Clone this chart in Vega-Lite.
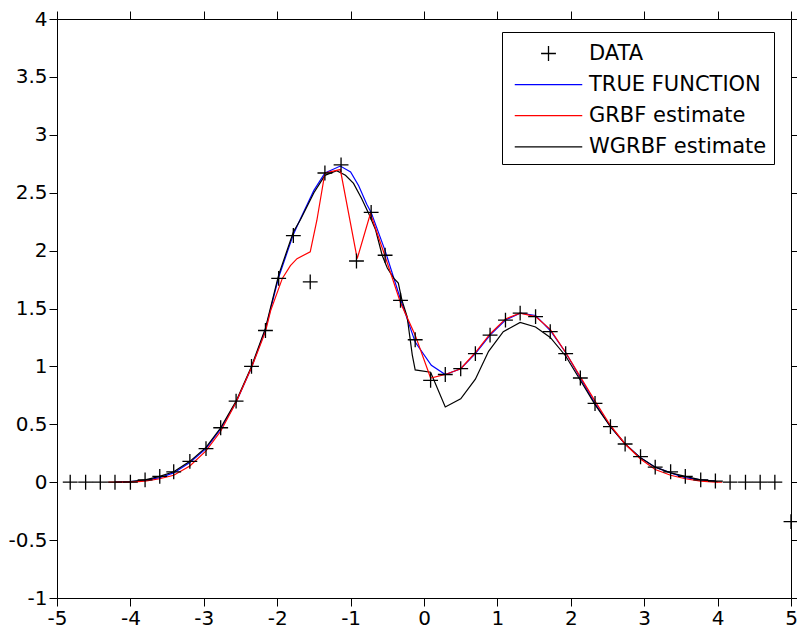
{
  "$schema": "https://vega.github.io/schema/vega-lite/v6.json",
  "width": 734,
  "height": 579,
  "autosize": "none",
  "padding": {"left": 57, "top": 19, "right": 6, "bottom": 34},
  "background": "white",
  "config": {
    "view": {"stroke": null},
    "axis": {
      "grid": false,
      "title": null,
      "labelFont": "DejaVu Sans",
      "labelFontSize": 20,
      "labelColor": "black",
      "tickColor": "black",
      "domainColor": "black",
      "tickSize": 8,
      "labelFlush": false,
      "labelOverlap": false,
      "labelBound": false
    },
    "legend": {
      "orient": "none",
      "legendX": 445,
      "legendY": 13,
      "title": null,
      "strokeColor": "black",
      "fillColor": "white",
      "padding": 7,
      "labelFont": "DejaVu Sans",
      "labelFontSize": 21,
      "labelColor": "black",
      "labelLimit": 0,
      "symbolSize": 729,
      "symbolStrokeWidth": 1.3,
      "symbolOffset": 25,
      "labelOffset": 26,
      "rowPadding": 6.1
    }
  },
  "datasets": {
    "lines": [
      {"series": "TRUE FUNCTION", "x": -4.21, "y": 0},
      {"series": "TRUE FUNCTION", "x": -4.0, "y": 0.005},
      {"series": "TRUE FUNCTION", "x": -3.8, "y": 0.015},
      {"series": "TRUE FUNCTION", "x": -3.6, "y": 0.04},
      {"series": "TRUE FUNCTION", "x": -3.41, "y": 0.08},
      {"series": "TRUE FUNCTION", "x": -3.19, "y": 0.17},
      {"series": "TRUE FUNCTION", "x": -2.97, "y": 0.29},
      {"series": "TRUE FUNCTION", "x": -2.77, "y": 0.46},
      {"series": "TRUE FUNCTION", "x": -2.56, "y": 0.69},
      {"series": "TRUE FUNCTION", "x": -2.35, "y": 0.99},
      {"series": "TRUE FUNCTION", "x": -2.16, "y": 1.32},
      {"series": "TRUE FUNCTION", "x": -1.98, "y": 1.77},
      {"series": "TRUE FUNCTION", "x": -1.78, "y": 2.14},
      {"series": "TRUE FUNCTION", "x": -1.68, "y": 2.28},
      {"series": "TRUE FUNCTION", "x": -1.5, "y": 2.52},
      {"series": "TRUE FUNCTION", "x": -1.35, "y": 2.67},
      {"series": "TRUE FUNCTION", "x": -1.14, "y": 2.73},
      {"series": "TRUE FUNCTION", "x": -1.0, "y": 2.68},
      {"series": "TRUE FUNCTION", "x": -0.89, "y": 2.56},
      {"series": "TRUE FUNCTION", "x": -0.78, "y": 2.4},
      {"series": "TRUE FUNCTION", "x": -0.72, "y": 2.33},
      {"series": "TRUE FUNCTION", "x": -0.53, "y": 2.0},
      {"series": "TRUE FUNCTION", "x": -0.32, "y": 1.58},
      {"series": "TRUE FUNCTION", "x": -0.12, "y": 1.21},
      {"series": "TRUE FUNCTION", "x": 0.1, "y": 1.01},
      {"series": "TRUE FUNCTION", "x": 0.29, "y": 0.93},
      {"series": "TRUE FUNCTION", "x": 0.5, "y": 0.98},
      {"series": "TRUE FUNCTION", "x": 0.7, "y": 1.11},
      {"series": "TRUE FUNCTION", "x": 0.9, "y": 1.27},
      {"series": "TRUE FUNCTION", "x": 1.11, "y": 1.4},
      {"series": "TRUE FUNCTION", "x": 1.31, "y": 1.46},
      {"series": "TRUE FUNCTION", "x": 1.52, "y": 1.44},
      {"series": "TRUE FUNCTION", "x": 1.72, "y": 1.31},
      {"series": "TRUE FUNCTION", "x": 1.93, "y": 1.12},
      {"series": "TRUE FUNCTION", "x": 2.13, "y": 0.9},
      {"series": "TRUE FUNCTION", "x": 2.33, "y": 0.68},
      {"series": "TRUE FUNCTION", "x": 2.54, "y": 0.48},
      {"series": "TRUE FUNCTION", "x": 2.74, "y": 0.33},
      {"series": "TRUE FUNCTION", "x": 2.95, "y": 0.21},
      {"series": "TRUE FUNCTION", "x": 3.15, "y": 0.13},
      {"series": "TRUE FUNCTION", "x": 3.36, "y": 0.08},
      {"series": "TRUE FUNCTION", "x": 3.56, "y": 0.04},
      {"series": "TRUE FUNCTION", "x": 3.77, "y": 0.02},
      {"series": "TRUE FUNCTION", "x": 3.97, "y": 0.01},

      {"series": "WGRBF estimate", "x": -4.21, "y": 0},
      {"series": "WGRBF estimate", "x": -4.0, "y": 0.005},
      {"series": "WGRBF estimate", "x": -3.8, "y": 0.02},
      {"series": "WGRBF estimate", "x": -3.6, "y": 0.05},
      {"series": "WGRBF estimate", "x": -3.41, "y": 0.09},
      {"series": "WGRBF estimate", "x": -3.19, "y": 0.18},
      {"series": "WGRBF estimate", "x": -2.97, "y": 0.3},
      {"series": "WGRBF estimate", "x": -2.77, "y": 0.47},
      {"series": "WGRBF estimate", "x": -2.56, "y": 0.7},
      {"series": "WGRBF estimate", "x": -2.35, "y": 1.0},
      {"series": "WGRBF estimate", "x": -2.16, "y": 1.33},
      {"series": "WGRBF estimate", "x": -1.98, "y": 1.79},
      {"series": "WGRBF estimate", "x": -1.78, "y": 2.16},
      {"series": "WGRBF estimate", "x": -1.68, "y": 2.27},
      {"series": "WGRBF estimate", "x": -1.5, "y": 2.5},
      {"series": "WGRBF estimate", "x": -1.35, "y": 2.65},
      {"series": "WGRBF estimate", "x": -1.19, "y": 2.69},
      {"series": "WGRBF estimate", "x": -1.07, "y": 2.65},
      {"series": "WGRBF estimate", "x": -0.96, "y": 2.58},
      {"series": "WGRBF estimate", "x": -0.85, "y": 2.45},
      {"series": "WGRBF estimate", "x": -0.76, "y": 2.33},
      {"series": "WGRBF estimate", "x": -0.66, "y": 2.18},
      {"series": "WGRBF estimate", "x": -0.57, "y": 1.96},
      {"series": "WGRBF estimate", "x": -0.5, "y": 1.85},
      {"series": "WGRBF estimate", "x": -0.41, "y": 1.76},
      {"series": "WGRBF estimate", "x": -0.35, "y": 1.72},
      {"series": "WGRBF estimate", "x": -0.3, "y": 1.57},
      {"series": "WGRBF estimate", "x": -0.23, "y": 1.43},
      {"series": "WGRBF estimate", "x": -0.16, "y": 1.1},
      {"series": "WGRBF estimate", "x": -0.12, "y": 0.97},
      {"series": "WGRBF estimate", "x": 0.09, "y": 0.95},
      {"series": "WGRBF estimate", "x": 0.29, "y": 0.65},
      {"series": "WGRBF estimate", "x": 0.5, "y": 0.72},
      {"series": "WGRBF estimate", "x": 0.7, "y": 0.89},
      {"series": "WGRBF estimate", "x": 0.88, "y": 1.13},
      {"series": "WGRBF estimate", "x": 1.08, "y": 1.3},
      {"series": "WGRBF estimate", "x": 1.31, "y": 1.38},
      {"series": "WGRBF estimate", "x": 1.52, "y": 1.34},
      {"series": "WGRBF estimate", "x": 1.72, "y": 1.25},
      {"series": "WGRBF estimate", "x": 1.93, "y": 1.09},
      {"series": "WGRBF estimate", "x": 2.13, "y": 0.88},
      {"series": "WGRBF estimate", "x": 2.33, "y": 0.67},
      {"series": "WGRBF estimate", "x": 2.54, "y": 0.48},
      {"series": "WGRBF estimate", "x": 2.74, "y": 0.33},
      {"series": "WGRBF estimate", "x": 2.95, "y": 0.21},
      {"series": "WGRBF estimate", "x": 3.15, "y": 0.13},
      {"series": "WGRBF estimate", "x": 3.36, "y": 0.08},
      {"series": "WGRBF estimate", "x": 3.56, "y": 0.05},
      {"series": "WGRBF estimate", "x": 3.77, "y": 0.02},
      {"series": "WGRBF estimate", "x": 3.97, "y": 0.01},
      {"series": "WGRBF estimate", "x": 4.0, "y": 0},

      {"series": "GRBF estimate", "x": -4.3, "y": 0},
      {"series": "GRBF estimate", "x": -4.0, "y": 0},
      {"series": "GRBF estimate", "x": -3.8, "y": 0.01},
      {"series": "GRBF estimate", "x": -3.6, "y": 0.03},
      {"series": "GRBF estimate", "x": -3.41, "y": 0.06},
      {"series": "GRBF estimate", "x": -3.19, "y": 0.14},
      {"series": "GRBF estimate", "x": -2.97, "y": 0.27},
      {"series": "GRBF estimate", "x": -2.77, "y": 0.44},
      {"series": "GRBF estimate", "x": -2.56, "y": 0.69},
      {"series": "GRBF estimate", "x": -2.35, "y": 0.99},
      {"series": "GRBF estimate", "x": -2.16, "y": 1.3},
      {"series": "GRBF estimate", "x": -2.09, "y": 1.48},
      {"series": "GRBF estimate", "x": -1.93, "y": 1.76},
      {"series": "GRBF estimate", "x": -1.82, "y": 1.87},
      {"series": "GRBF estimate", "x": -1.73, "y": 1.93},
      {"series": "GRBF estimate", "x": -1.55, "y": 1.99},
      {"series": "GRBF estimate", "x": -1.46, "y": 2.26},
      {"series": "GRBF estimate", "x": -1.35, "y": 2.67},
      {"series": "GRBF estimate", "x": -1.14, "y": 2.7},
      {"series": "GRBF estimate", "x": -0.91, "y": 1.93},
      {"series": "GRBF estimate", "x": -0.73, "y": 2.32},
      {"series": "GRBF estimate", "x": -0.53, "y": 1.95},
      {"series": "GRBF estimate", "x": -0.32, "y": 1.55},
      {"series": "GRBF estimate", "x": -0.12, "y": 1.27},
      {"series": "GRBF estimate", "x": 0.09, "y": 0.9},
      {"series": "GRBF estimate", "x": 0.29, "y": 0.93},
      {"series": "GRBF estimate", "x": 0.5, "y": 0.98},
      {"series": "GRBF estimate", "x": 0.7, "y": 1.12},
      {"series": "GRBF estimate", "x": 0.9, "y": 1.28},
      {"series": "GRBF estimate", "x": 1.11, "y": 1.41},
      {"series": "GRBF estimate", "x": 1.31, "y": 1.46},
      {"series": "GRBF estimate", "x": 1.52, "y": 1.43},
      {"series": "GRBF estimate", "x": 1.72, "y": 1.32},
      {"series": "GRBF estimate", "x": 1.93, "y": 1.12},
      {"series": "GRBF estimate", "x": 2.13, "y": 0.91},
      {"series": "GRBF estimate", "x": 2.33, "y": 0.7},
      {"series": "GRBF estimate", "x": 2.54, "y": 0.49},
      {"series": "GRBF estimate", "x": 2.74, "y": 0.33},
      {"series": "GRBF estimate", "x": 2.95, "y": 0.2},
      {"series": "GRBF estimate", "x": 3.15, "y": 0.11},
      {"series": "GRBF estimate", "x": 3.36, "y": 0.06},
      {"series": "GRBF estimate", "x": 3.56, "y": 0.03},
      {"series": "GRBF estimate", "x": 3.77, "y": 0.01},
      {"series": "GRBF estimate", "x": 3.97, "y": 0},
      {"series": "GRBF estimate", "x": 4.06, "y": 0}
    ],
    "points": [
      {"series": "DATA", "x": -4.82, "y": 0},
      {"series": "DATA", "x": -4.61, "y": 0},
      {"series": "DATA", "x": -4.41, "y": 0},
      {"series": "DATA", "x": -4.21, "y": 0},
      {"series": "DATA", "x": -4.0, "y": 0},
      {"series": "DATA", "x": -3.8, "y": 0.02},
      {"series": "DATA", "x": -3.6, "y": 0.05},
      {"series": "DATA", "x": -3.41, "y": 0.09},
      {"series": "DATA", "x": -3.19, "y": 0.18},
      {"series": "DATA", "x": -2.97, "y": 0.29},
      {"series": "DATA", "x": -2.77, "y": 0.47},
      {"series": "DATA", "x": -2.56, "y": 0.7},
      {"series": "DATA", "x": -2.35, "y": 1.0},
      {"series": "DATA", "x": -2.16, "y": 1.31},
      {"series": "DATA", "x": -1.98, "y": 1.76},
      {"series": "DATA", "x": -1.78, "y": 2.13},
      {"series": "DATA", "x": -1.55, "y": 1.73},
      {"series": "DATA", "x": -1.35, "y": 2.67},
      {"series": "DATA", "x": -1.13, "y": 2.74},
      {"series": "DATA", "x": -0.92, "y": 1.91},
      {"series": "DATA", "x": -0.72, "y": 2.33},
      {"series": "DATA", "x": -0.53, "y": 1.96},
      {"series": "DATA", "x": -0.32, "y": 1.57},
      {"series": "DATA", "x": -0.12, "y": 1.23},
      {"series": "DATA", "x": 0.09, "y": 0.88},
      {"series": "DATA", "x": 0.29, "y": 0.93},
      {"series": "DATA", "x": 0.5, "y": 0.98},
      {"series": "DATA", "x": 0.7, "y": 1.11},
      {"series": "DATA", "x": 0.9, "y": 1.27},
      {"series": "DATA", "x": 1.11, "y": 1.4},
      {"series": "DATA", "x": 1.31, "y": 1.46},
      {"series": "DATA", "x": 1.52, "y": 1.43},
      {"series": "DATA", "x": 1.72, "y": 1.3},
      {"series": "DATA", "x": 1.93, "y": 1.11},
      {"series": "DATA", "x": 2.13, "y": 0.9},
      {"series": "DATA", "x": 2.33, "y": 0.68},
      {"series": "DATA", "x": 2.54, "y": 0.48},
      {"series": "DATA", "x": 2.74, "y": 0.33},
      {"series": "DATA", "x": 2.95, "y": 0.22},
      {"series": "DATA", "x": 3.15, "y": 0.13},
      {"series": "DATA", "x": 3.36, "y": 0.09},
      {"series": "DATA", "x": 3.56, "y": 0.05},
      {"series": "DATA", "x": 3.77, "y": 0.02},
      {"series": "DATA", "x": 3.97, "y": 0.01},
      {"series": "DATA", "x": 4.17, "y": 0},
      {"series": "DATA", "x": 4.38, "y": 0},
      {"series": "DATA", "x": 4.58, "y": 0},
      {"series": "DATA", "x": 4.78, "y": 0},
      {"series": "DATA", "x": 5.0, "y": -0.34}
    ]
  },
  "resolve": {
    "scale": {"x": "independent", "y": "independent"},
    "axis": {"x": "independent", "y": "independent"}
  },
  "layer": [
    {
      "mark": {"type": "rule", "color": "black", "strokeWidth": 1.3},
      "encoding": {
        "x": {"datum": -5, "type": "quantitative",
              "scale": {"domain": [-5, 5], "nice": false, "zero": false},
              "axis": {"orient": "bottom", "values": [-5,-4,-3,-2,-1,0,1,2,3,4,5], "labelExpr": "'' + datum.value", "labelPadding": 2,
                       "encode": {"ticks": {"update": {"y2": {"value": -8}}}}}},
        "x2": {"datum": 5},
        "y": {"datum": 0, "type": "quantitative",
              "scale": {"domain": [-1, 4], "nice": false, "zero": false},
              "axis": {"orient": "left", "values": [-1,-0.5,0,0.5,1,1.5,2,2.5,3,3.5,4], "labelExpr": "'' + datum.value", "labelPadding": 2,
                       "encode": {"ticks": {"update": {"x2": {"value": 8}}}}}}
      }
    },
    {
      "data": {"name": "lines"},
      "mark": {"type": "line", "strokeWidth": 1.2},
      "encoding": {
        "x": {"field": "x", "type": "quantitative",
              "scale": {"domain": [-5, 5], "nice": false, "zero": false},
              "axis": {"orient": "top", "values": [-5,-4,-3,-2,-1,0,1,2,3,4,5], "labels": false,
                       "encode": {"ticks": {"update": {"y2": {"value": 8}}}}}},
        "y": {"field": "y", "type": "quantitative",
              "scale": {"domain": [-1, 4], "nice": false, "zero": false},
              "axis": {"orient": "right", "values": [-1,-0.5,0,0.5,1,1.5,2,2.5,3,3.5,4], "labels": false,
                       "encode": {"ticks": {"update": {"x2": {"value": -8}}}}}},
        "color": {"field": "series", "type": "nominal",
                  "scale": {"domain": ["DATA", "TRUE FUNCTION", "GRBF estimate", "WGRBF estimate"], "range": ["#000000", "#0000ff", "#ff0000", "#000000"]},
                  "legend": {}}
      }
    },
    {
      "data": {"name": "points"},
      "mark": {"type": "point", "filled": false, "size": 729, "strokeWidth": 1.3, "opacity": 1},
      "encoding": {
        "x": {"field": "x", "type": "quantitative",
              "scale": {"domain": [-5, 5], "nice": false, "zero": false},
              "axis": null},
        "y": {"field": "y", "type": "quantitative",
              "scale": {"domain": [-1, 4], "nice": false, "zero": false},
              "axis": null},
        "color": {"field": "series", "type": "nominal"},
        "shape": {"field": "series", "type": "nominal",
                  "scale": {"domain": ["DATA", "TRUE FUNCTION", "GRBF estimate", "WGRBF estimate"],
                            "range": ["M-0.55,0H0.55M0,-0.55V0.55", "M-2.5,0H2.5", "M-2.5,0H2.5", "M-2.5,0H2.5"]}}
      }
    }
  ]
}
